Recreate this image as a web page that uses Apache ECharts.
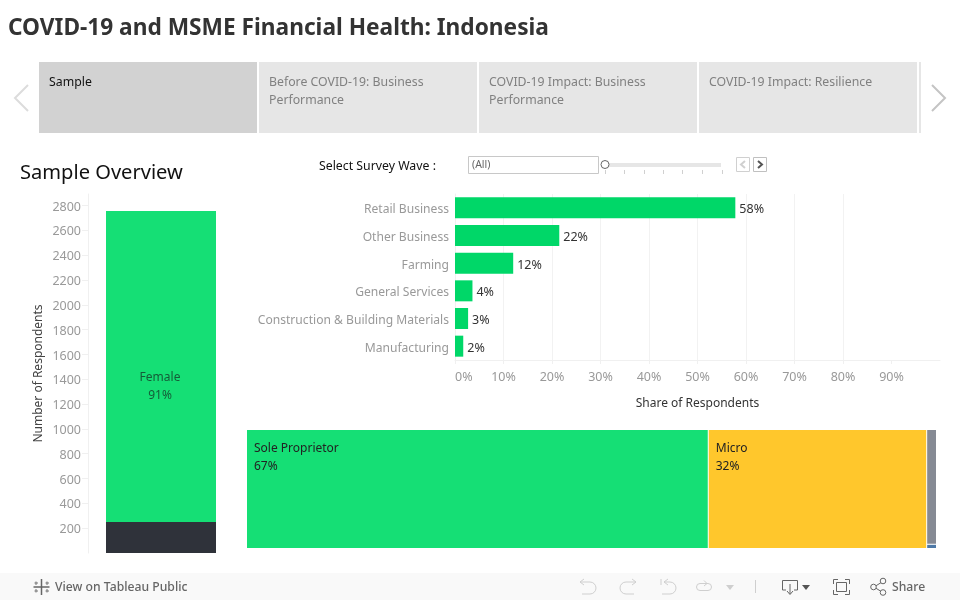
<!DOCTYPE html>
<html>

<head>
    <meta charset="utf-8">
    <title>COVID-19 and MSME Financial Health: Indonesia</title>
    <script src="https://cdn.jsdelivr.net/npm/echarts@6/dist/echarts.min.js"></script>
    <style>
        html, body { margin: 0; padding: 0; background: #fff; }
    </style>
</head>

<body>
    <div id="main" style="width: 960px;height:600px;"></div>
    <script type="text/javascript">
        // data
        var genderNames = ['Male', 'Female'];
        var genderCounts = [250, 2506];
        var genderShareLabel = '91%';
        var countTicks = [200, 400, 600, 800, 1000, 1200, 1400, 1600, 1800, 2000, 2200, 2400, 2600, 2800];

        var sectorNames = ['Retail Business', 'Other Business', 'Farming', 'General Services', 'Construction & Building Materials', 'Manufacturing'];
        var sectorShares = [57.8, 21.5, 12, 3.6, 2.7, 1.7];
        var shareTicks = [0, 10, 20, 30, 40, 50, 60, 70, 80, 90];

        var firmNames = ['Sole Proprietor', 'Micro', 'Small', 'Medium'];
        var firmShares = [66.8, 31.6, 1.37, 0.05];
        var firmColors = ['#15df75', '#ffc72c', '#868a94', '#4e79a7'];

        var tabNames = ['Sample', 'Before COVID-19: Business\nPerformance', 'COVID-19 Impact: Business\nPerformance', 'COVID-19 Impact: Resilience'];

        var FONT = '"Noto Sans", sans-serif';
        var chrome = [];

        function addRect(x, y, w, h, fill, stroke) {
            chrome.push({
                type: 'rect', silent: true,
                shape: { x: x, y: y, width: w, height: h },
                style: { fill: fill, stroke: stroke || null, lineWidth: 1 }
            });
        }
        function addText(x, y, text, size, color, weight, lineHeight) {
            chrome.push({
                type: 'text', silent: true, x: x, y: y,
                style: {
                    text: text, fill: color, font: (weight || 'normal') + ' ' + size + 'px ' + FONT,
                    lineHeight: lineHeight, verticalAlign: 'middle', align: 'left'
                }
            });
        }
        function addLine(points, color, width) {
            chrome.push({
                type: 'polyline', silent: true,
                shape: { points: points },
                style: { stroke: color, lineWidth: width || 1, fill: null }
            });
        }
        function addArc(cx, cy, r, start, end, color) {
            chrome.push({
                type: 'arc', silent: true,
                shape: { cx: cx, cy: cy, r: r, startAngle: start, endAngle: end },
                style: { stroke: color, lineWidth: 1, fill: null }
            });
        }

        // tabs
        tabNames.forEach(function (name, i) {
            var x = 39 + i * 220;
            var lines = name.split('\n').length;
            addRect(x, 62, 218, 71, i == 0 ? '#d2d2d2' : '#e6e6e6');
            addText(x + 10, 82.5 + (lines - 1) * 9, name, 12.3, i == 0 ? '#111' : '#808080', 'normal', 18);
        });
        addRect(919, 62, 2, 71, '#e6e6e6');
        addLine([[28, 85], [15, 98], [28, 111]], '#dcdcdc', 2);
        addLine([[932, 85], [945, 98], [932, 111]], '#c4c4c4', 2);

        // wave filter
        addText(319, 166, 'Select Survey Wave :', 12.3, '#111');
        addRect(468.5, 156.5, 130, 17, '#fff', '#c8c8c8');
        addText(472, 165.5, '(All)', 10.5, '#666');
        addRect(605, 163, 116, 4, '#e6e6e6');
        [605, 624, 644, 663, 682, 702, 722].forEach(function (x) {
            addLine([[x + 0.5, 170], [x + 0.5, 174]], '#d0d0d0', 1);
        });
        chrome.push({
            type: 'circle', silent: true,
            shape: { cx: 605, cy: 164.5, r: 4 },
            style: { fill: '#fff', stroke: '#666', lineWidth: 1 }
        });
        addRect(736.5, 157.5, 13, 14, '#fff', '#d0d0d0');
        addRect(753.5, 157.5, 13, 14, '#fff', '#c0c0c0');
        addLine([[745, 161], [741, 164.5], [745, 168]], '#d0d0d0', 2);
        addLine([[758, 161], [762, 164.5], [758, 168]], '#555', 2);

        // footer
        addRect(0, 573, 960, 27, '#f9f9f9');
        // tableau mark
        addLine([[41.5, 579], [41.5, 595]], '#666', 1.5);
        addLine([[33.5, 587], [49.5, 587]], '#666', 1.5);
        addLine([[36, 581.5], [36, 585]], '#777', 1);
        addLine([[47, 581.5], [47, 585]], '#777', 1);
        addLine([[36, 589], [36, 592.5]], '#777', 1);
        addLine([[47, 589], [47, 592.5]], '#777', 1);
        addLine([[34.5, 583], [38, 583]], '#777', 1);
        addLine([[45.5, 583], [49, 583]], '#777', 1);
        addLine([[34.5, 591], [38, 591]], '#777', 1);
        addLine([[45.5, 591], [49, 591]], '#777', 1);
        addText(55, 587.5, 'View on Tableau Public', 12.2, '#666', '500');
        addText(892, 587.5, 'Share', 12.2, '#666', '500');

        // undo, redo, revert, refresh
        addLine([[584, 579], [580, 582], [584, 585]], '#cfcfcf');
        addLine([[580, 582], [590, 582]], '#cfcfcf');
        addArc(590, 588, 6, -Math.PI / 2, Math.PI / 2, '#cfcfcf');
        addLine([[590, 594], [582, 594]], '#cfcfcf');
        addLine([[632, 579], [636, 582], [632, 585]], '#cfcfcf');
        addLine([[636, 582], [626, 582]], '#cfcfcf');
        addArc(626, 588, 6, Math.PI / 2, Math.PI * 1.5, '#cfcfcf');
        addLine([[626, 594], [634, 594]], '#cfcfcf');
        addLine([[661, 579], [661, 585]], '#cfcfcf');
        addLine([[668, 579], [664, 582], [668, 585]], '#cfcfcf');
        addLine([[664, 582], [670, 582]], '#cfcfcf');
        addArc(670, 588, 6, -Math.PI / 2, Math.PI / 2, '#cfcfcf');
        addLine([[670, 594], [662, 594]], '#cfcfcf');
        chrome.push({
            type: 'rect', silent: true,
            shape: { x: 696.5, y: 583.5, width: 15, height: 7, r: 3.5 },
            style: { fill: null, stroke: '#cfcfcf', lineWidth: 1 }
        });
        addLine([[704, 580.5], [707, 583.5], [704, 586]], '#cfcfcf');
        chrome.push({ type: 'polygon', silent: true, shape: { points: [[726, 585], [734, 585], [730, 590]] }, style: { fill: '#cfcfcf' } });
        addLine([[755.5, 580], [755.5, 593]], '#cfcfcf');

        // download, full screen, share
        addLine([[786, 590], [782.5, 590], [782.5, 580.5], [797.5, 580.5], [797.5, 590], [794, 590]], '#666');
        addLine([[790, 584], [790, 594]], '#666');
        addLine([[787, 591], [790, 594.5], [793, 591]], '#666');
        chrome.push({ type: 'polygon', silent: true, shape: { points: [[802, 585], [810, 585], [806, 590]] }, style: { fill: '#555' } });
        addRect(836.5, 582.5, 10, 9, null, '#666');
        addLine([[833.5, 584], [833.5, 579.5], [838, 579.5]], '#666');
        addLine([[845, 579.5], [849.5, 579.5], [849.5, 584]], '#666');
        addLine([[833.5, 590], [833.5, 594.5], [838, 594.5]], '#666');
        addLine([[845, 594.5], [849.5, 594.5], [849.5, 590]], '#666');
        addLine([[882, 582], [874, 587], [882, 592]], '#666');
        [[883, 581], [873.5, 587], [883, 592.5]].forEach(function (p) {
            chrome.push({
                type: 'circle', silent: true,
                shape: { cx: p[0], cy: p[1], r: 2.8 },
                style: { fill: '#f9f9f9', stroke: '#666', lineWidth: 1 }
            });
        });

        var myChart = echarts.init(document.getElementById('main'));
        var option = {
            animation: false,
            textStyle: { fontFamily: FONT },
            title: [{
                text: 'COVID-19 and MSME Financial Health: Indonesia',
                left: 8, top: 17, padding: 0,
                textStyle: { fontFamily: FONT, fontSize: 22.7, fontWeight: 'bold', color: '#333' }
            }, {
                text: 'Sample Overview',
                left: 20, top: 163, padding: 0,
                textStyle: { fontFamily: FONT, fontSize: 20.1, fontWeight: 'normal', color: '#111' }
            }],
            grid: [
                { left: 88, top: 194, width: 146, height: 359 },
                { left: 455, top: 194, width: 485, height: 166 }
            ],
            xAxis: [{
                gridIndex: 0, type: 'category', data: ['Respondents'],
                axisLine: { show: false }, axisTick: { show: false }, axisLabel: { show: false }
            }, {
                gridIndex: 1, type: 'value', min: 0, max: 100, interval: 10,
                name: 'Share of Respondents', nameLocation: 'middle', nameGap: 38,
                nameTextStyle: { color: '#333', fontSize: 12 },
                axisLine: { show: true, lineStyle: { color: '#f0f0f0' } },
                axisTick: { show: true, length: 4, customValues: shareTicks, lineStyle: { color: '#f0f0f0' } },
                axisLabel: {
                    color: '#999', fontSize: 12.5, margin: 11, alignMinLabel: 'left',
                    customValues: shareTicks,
                    formatter: function (v) { return v + '%'; }
                },
                splitLine: { show: true, showMaxLine: false, lineStyle: { color: '#f2f2f2' } }
            }],
            yAxis: [{
                gridIndex: 0, type: 'value', min: 0, max: 2893, interval: 200,
                name: 'Number of Respondents', nameLocation: 'middle', nameGap: 43,
                nameTextStyle: { color: '#444', fontSize: 12 },
                axisLine: { show: true, lineStyle: { color: '#f0f0f0' } },
                axisTick: { show: true, length: 6, customValues: countTicks, lineStyle: { color: '#f0f0f0' } },
                axisLabel: {
                    color: '#999', fontSize: 12.5, margin: 7, customValues: countTicks,
                    verticalAlign: 'top', lineHeight: 3,
                    formatter: function (v) { return String(v); }
                },
                splitLine: { show: false }
            }, {
                gridIndex: 1, type: 'category', data: sectorNames, inverse: true,
                axisLine: { show: true, lineStyle: { color: '#f0f0f0' } },
                axisTick: { show: false },
                axisLabel: { color: '#999', fontSize: 12.1, margin: 6, verticalAlign: 'top', lineHeight: 4 }
            }],
            series: [{
                name: genderNames[0], type: 'bar', stack: 'gender', xAxisIndex: 0, yAxisIndex: 0,
                barWidth: 110, data: [genderCounts[0]],
                itemStyle: { color: '#2f323a' }
            }, {
                name: genderNames[1], type: 'bar', stack: 'gender', xAxisIndex: 0, yAxisIndex: 0,
                barWidth: 110, data: [genderCounts[1]],
                itemStyle: { color: '#15df75' },
                label: {
                    show: true, position: 'inside', offset: [-1, 20],
                    formatter: genderNames[1] + '\n' + genderShareLabel,
                    color: '#155c38', fontSize: 12, lineHeight: 18
                }
            }, {
                name: 'Share of Respondents', type: 'bar', xAxisIndex: 1, yAxisIndex: 1,
                barWidth: 21, data: sectorShares,
                itemStyle: { color: '#00d768' },
                label: {
                    show: true, position: 'right', distance: 4, color: '#333', fontSize: 12.5,
                    offset: [0, 2],
                    formatter: function (p) { return Math.round(p.value) + '%'; }
                }
            }, {
                type: 'treemap', left: 247, top: 430, width: 689, height: 118,
                roam: false, nodeClick: false, breadcrumb: { show: false },
                squareRatio: 0.5, visibleMin: 0, childrenVisibleMin: 0,
                levels: [{ itemStyle: { gapWidth: 1, borderWidth: 0 } }],
                label: {
                    show: true, position: 'insideTopLeft', color: '#222', fontSize: 12, lineHeight: 18,
                    distance: 0, padding: [10, 0, 0, 7],
                    formatter: function (p) { return p.name + '\n' + Math.round(p.value) + '%'; }
                },
                data: firmNames.map(function (name, i) {
                    return {
                        name: name, value: firmShares[i],
                        itemStyle: { color: firmColors[i] },
                        label: { show: i < 2 }
                    };
                })
            }],
            graphic: chrome
        };
        myChart.setOption(option);
    </script>
</body>

</html>
